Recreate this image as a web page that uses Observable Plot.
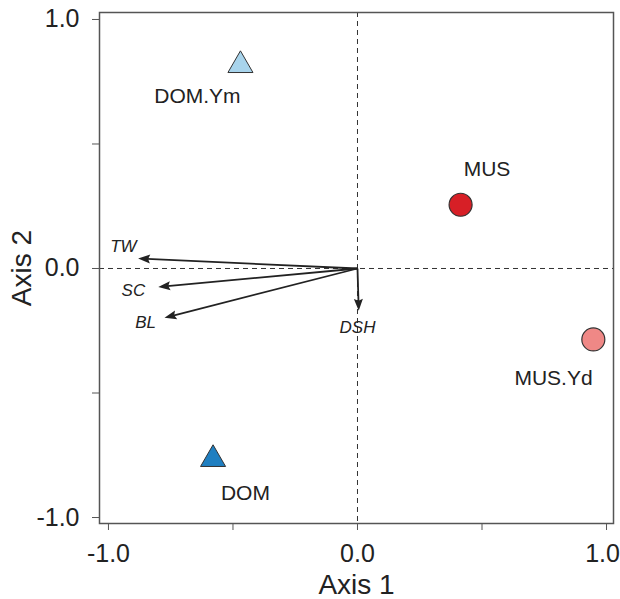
<!DOCTYPE html>
<html>
<head>
<meta charset="utf-8">
<script src="https://cdn.jsdelivr.net/npm/d3@7"></script>
<script src="https://cdn.jsdelivr.net/npm/@observablehq/plot@0.6"></script>
<style>
html, body { margin: 0; padding: 0; background: #fff; }
#chart svg [aria-label="x-axis label"] text,
#chart svg [aria-label="y-axis label"] text { font-size: 28px; }
</style>
</head>
<body>
<div id="chart"></div>
<script>
// Group centroids
const groups = ["DOM.Ym", "MUS", "MUS.Yd", "DOM"];
const groupX = [-0.47, 0.414, 0.947, -0.58];
const groupY = [0.816, 0.256, -0.285, -0.766];
const groupShape = ["triangle", "circle", "circle", "triangle"];
const groupColor = ["#a8d4ec", "#d71f26", "#ef8886", "#1f7fc1"];
const groupLabelX = [-0.643, 0.52, 0.787, -0.45];
const groupLabelY = [0.69, 0.398, -0.442, -0.902];

// Variable vectors
const vars = ["TW", "SC", "BL", "DSH"];
const varX = [-0.881, -0.800, -0.775, 0.005];
const varY = [0.040, -0.074, -0.198, -0.170];
const varLabelX = [-0.94, -0.90, -0.851, 0.0];
const varLabelY = [0.088, -0.09, -0.219, -0.237];

// Ticks
const ticks = [-1, -0.5, 0, 0.5, 1];
const labelTicks = [-1, 0, 1];
const tickText = t => Number.isInteger(t) ? t.toFixed(1) : "";

const gi = groups.map((_, i) => i);
const vi = vars.map((_, i) => i);

const pxPerUnit = 249;
const headLen = 12;
const shrink = i => {
  const len = Math.hypot(varX[i], varY[i]) * pxPerUnit;
  return 1 - (headLen - 3) / len;
};

const arrowHead = {
  draw(ctx) {
    ctx.moveTo(0, 0);
    ctx.lineTo(-4.5, headLen);
    ctx.lineTo(0, headLen - 2);
    ctx.lineTo(4.5, headLen);
    ctx.closePath();
  }
};

const ink = "#222";

const chart = Plot.plot({
  width: 620,
  height: 599,
  marginLeft: 99,
  marginRight: 7,
  marginTop: 12,
  marginBottom: 76,
  style: {fontFamily: "'Liberation Sans', Arial, sans-serif", color: ink, background: "#fff"},
  x: {domain: [-1.036, 1.028]},
  y: {domain: [-1.024, 1.028]},
  color: {type: "identity"},
  marks: [
    Plot.ruleX([0], {stroke: "#333", strokeWidth: 1, strokeDasharray: "5,4"}),
    Plot.ruleY([0], {stroke: "#333", strokeWidth: 1, strokeDasharray: "5,4"}),
    Plot.frame({stroke: "#555", strokeWidth: 1.5}),
    // x axis: ticks, labels (last label nudged left to stay inside the page), title
    Plot.axisX({ticks, tickSize: 7, text: null, stroke: "#555", label: null}),
    Plot.axisX({ticks: ticks.slice(0, 4), tickFormat: tickText, tickSize: 0, tickPadding: 21, fontSize: 25,
      label: "Axis 1", labelAnchor: "center", labelArrow: "none", labelOffset: 70}),
    Plot.axisX({ticks: ticks.slice(4), tickFormat: tickText, tickSize: 0, tickPadding: 21, fontSize: 25,
      dx: -4, label: null}),
    // y axis: ticks + title, with tick labels as a text mark
    Plot.axisY({ticks, tickSize: 7, text: null, stroke: "#555",
      label: "Axis 2", labelAnchor: "center", labelArrow: "none", labelOffset: 88}),
    Plot.text(labelTicks, {
      y: d => d, text: tickText, frameAnchor: "left", textAnchor: "end", dx: -20,
      fontSize: 25, fill: ink
    }),
    // vectors
    Plot.link(vi, {
      x1: () => 0, y1: () => 0,
      x2: i => varX[i] * shrink(i), y2: i => varY[i] * shrink(i),
      stroke: ink, strokeWidth: 1.8
    }),
    Plot.dot(vi, {
      x: i => varX[i], y: i => varY[i],
      symbol: () => arrowHead,
      rotate: i => Math.atan2(varX[i], varY[i]) * 180 / Math.PI,
      fill: () => ink, stroke: "none", r: 5
    }),
    Plot.text(vi, {
      x: i => varLabelX[i], y: i => varLabelY[i], text: i => vars[i],
      fontSize: 17, fontStyle: "italic", fill: ink
    }),
    // group points
    Plot.dot(gi.filter(i => groupShape[i] === "triangle"), {
      x: i => groupX[i], y: i => groupY[i], symbol: "triangle", r: 9.3,
      fill: i => groupColor[i], stroke: "#333", strokeWidth: 1
    }),
    Plot.dot(gi.filter(i => groupShape[i] === "circle"), {
      x: i => groupX[i], y: i => groupY[i], symbol: "circle", r: 11.5,
      fill: i => groupColor[i], stroke: "#333", strokeWidth: 1.2
    }),
    Plot.text(gi, {
      x: i => groupLabelX[i], y: i => groupLabelY[i], text: i => groups[i],
      fontSize: 21, fill: ink
    })
  ]
});

document.getElementById("chart").appendChild(chart);
</script>
</body>
</html>
